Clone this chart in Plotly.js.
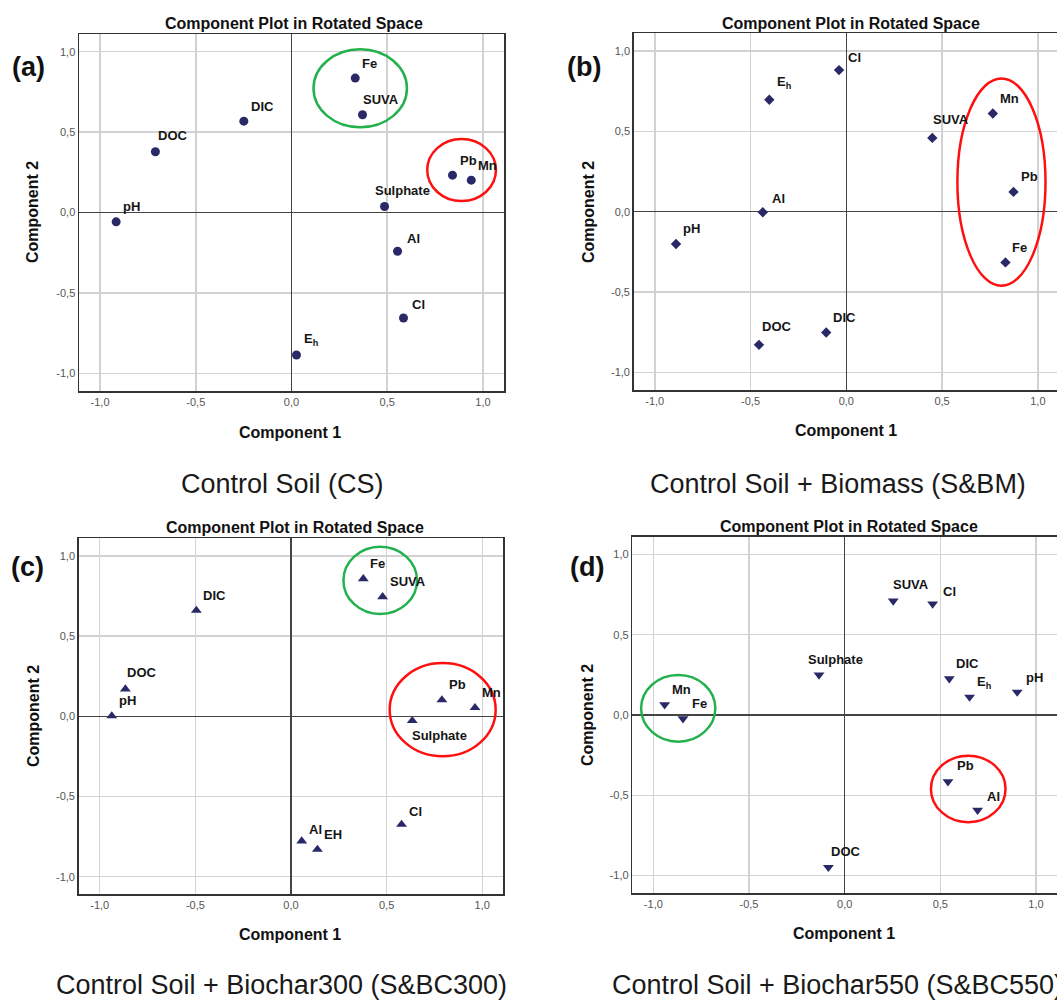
<!DOCTYPE html>
<html>
<head>
<meta charset="utf-8">
<script src="https://cdn.plot.ly/plotly-3.0.1.min.js"></script>
<style>html,body{margin:0;padding:0;background:#fff;}#chart{width:1057px;height:1001px;}</style>
</head>
<body>
<div id="chart"></div>
<script>
// ---------- DATA ----------
var tickValues = [-1.0, -0.5, 0.0, 0.5, 1.0];
var tickLabels = ['-1,0', '-0,5', '0,0', '0,5', '1,0'];

// (a) Control Soil (CS)
var csLabels = ['Fe', 'SUVA', 'DIC', 'DOC', 'pH', 'Pb', 'Mn', 'Sulphate', 'Al', 'Cl', 'E<sub>h</sub>'];
var csComp1  = [0.333, 0.371, -0.249, -0.711, -0.916, 0.841, 0.939, 0.486, 0.554, 0.585, 0.026];
var csComp2  = [0.836, 0.608, 0.568, 0.378, -0.058, 0.232, 0.201, 0.037, -0.241, -0.656, -0.886];

// (b) Control Soil + Biomass (S&BM)
var bmLabels = ['Cl', 'E<sub>h</sub>', 'Mn', 'SUVA', 'Pb', 'Al', 'pH', 'Fe', 'DIC', 'DOC'];
var bmComp1  = [-0.038, -0.402, 0.765, 0.449, 0.873, -0.436, -0.889, 0.831, -0.105, -0.456];
var bmComp2  = [0.881, 0.696, 0.611, 0.459, 0.123, -0.004, -0.201, -0.316, -0.752, -0.829];

// (c) Control Soil + Biochar300 (S&BC300)
var bc3Labels = ['Fe', 'SUVA', 'DIC', 'DOC', 'pH', 'Pb', 'Mn', 'Sulphate', 'Cl', 'Al', 'EH'];
var bc3Comp1  = [0.378, 0.479, -0.495, -0.866, -0.937, 0.789, 0.962, 0.634, 0.578, 0.056, 0.138];
var bc3Comp2  = [0.857, 0.745, 0.660, 0.170, 0.002, 0.102, 0.054, -0.027, -0.674, -0.778, -0.830];

// (d) Control Soil + Biochar550 (S&BC550)
var bc5Labels = ['SUVA', 'Cl', 'Sulphate', 'DIC', 'E<sub>h</sub>', 'pH', 'Mn', 'Fe', 'Pb', 'Al', 'DOC'];
var bc5Comp1  = [0.254, 0.460, -0.134, 0.547, 0.653, 0.902, -0.941, -0.845, 0.540, 0.695, -0.085];
var bc5Comp2  = [0.710, 0.691, 0.249, 0.226, 0.112, 0.143, 0.064, -0.023, -0.415, -0.593, -0.948];

// highlighted groups (ellipses, in component units): [x0, x1, y0, y1]
var csGreen  = [0.115, 0.603, 0.530, 1.015];
var csRed    = [0.709, 1.068, 0.071, 0.457];
var bmRed    = [0.580, 1.040, -0.461, 0.829];
var bc3Green = [0.274, 0.659, 0.638, 1.057];
var bc3Red   = [0.516, 1.070, -0.249, 0.332];
var bc5Green = [-1.064, -0.676, -0.166, 0.249];
var bc5Red   = [0.451, 0.841, -0.667, -0.253];

var panelCaptions = ['Control Soil (CS)', 'Control Soil + Biomass (S&amp;BM)',
                     'Control Soil + Biochar300 (S&amp;BC300)', 'Control Soil + Biochar550 (S&amp;BC550)'];
var panelLetters = ['(a)', '(b)', '(c)', '(d)'];
var plotTitle = 'Component Plot in Rotated Space';
var xTitle = 'Component 1';
var yTitle = 'Component 2';

// ---------- STYLE / LAYOUT ----------
var W = 1057, H = 1001;
function px(x) { return x / W; }
function py(y) { return 1 - y / H; }
var FONT = 'Liberation Sans, Arial, sans-serif';
var MARKER = '#2a2968';

// label offsets (pixels): default right/up, with a few overrides
var DEF_DX = 5, DEF_DY = 15;
var labelOffsets = {
  a: {'SUVA': [-2, 15], 'DOC': [1, 16], 'Sulphate': [-12, 16], 'Al': [7, 13], 'Cl': [7, 13], 'E<sub>h</sub>': [6, 15]},
  b: {'SUVA': [-1, 18], 'DOC': [1, 18], 'Cl': [7, 13], 'E<sub>h</sub>': [6, 17], 'Al': [7, 14]},
  c: {'Sulphate': [-2, -15], 'DOC': [0, 17], 'Al': [5, 12], 'Cl': [5, 13]},
  d: {'SUVA': [-2, 16], 'Sulphate': [-13, 16], 'Cl': [8, 13], 'Fe': [7, 15], 'Pb': [7, 16], 'Al': [7, 14], 'DOC': [1, 16], 'pH': [7, 15]}
};

var panels = [
  {key: 'a', xa: 'x',  ya: 'y',  labels: csLabels,  c1: csComp1,  c2: csComp2,  sym: 'circle',        size: 9,
   xdom: [px(79), px(504)],    ydom: [py(391), py(34)],    xr: [-1.11, 1.11], mirrorY: true,
   title: [294, 23], xt: [290, 432], yt: [33, 212], cap: [282.5, 484, 'center'], letter: [28, 67],
   ell: [[csGreen, '#22b14c'], [csRed, '#ff1010']]},
  {key: 'b', xa: 'x2', ya: 'y2', labels: bmLabels,  c1: bmComp1,  c2: bmComp2,  sym: 'diamond',       size: 8,
   xdom: [px(633.7), 1],       ydom: [py(390), py(33.3)],  xr: [-1.11, 1.10], mirrorY: false,
   title: [851, 23], xt: [846, 431], yt: [589, 212], cap: [838, 484, 'center'], letter: [584, 67],
   ell: [[bmRed, '#ff1010']]},
  {key: 'c', xa: 'x3', ya: 'y3', labels: bc3Labels, c1: bc3Comp1, c2: bc3Comp2, sym: 'triangle-up',   size: 9.5,
   xdom: [px(78.7), px(503.3)], ydom: [py(894.3), py(538.3)], xr: [-1.11, 1.11], mirrorY: true,
   title: [295, 527], xt: [290, 934], yt: [33, 716], cap: [281.5, 985, 'center'], letter: [27, 567],
   ell: [[bc3Green, '#22b14c'], [bc3Red, '#ff1010']]},
  {key: 'd', xa: 'x4', ya: 'y4', labels: bc5Labels, c1: bc5Comp1, c2: bc5Comp2, sym: 'triangle-down', size: 9.5,
   xdom: [px(632.3), 1],       ydom: [py(893.3), py(536.7)], xr: [-1.11, 1.11], mirrorY: false,
   title: [849, 526], xt: [844, 933], yt: [587, 715], cap: [610.3, 985, 'left'], letter: [587, 567],
   ell: [[bc5Green, '#22b14c'], [bc5Red, '#ff1010']]}
];

var traces = [];
var layout = {
  width: W, height: H,
  margin: {l: 0, r: 0, t: 0, b: 0},
  paper_bgcolor: '#ffffff', plot_bgcolor: '#ffffff',
  showlegend: false,
  font: {family: FONT, color: '#111'},
  annotations: [], shapes: []
};

panels.forEach(function (p, i) {
  var n = i === 0 ? '' : String(i + 1);
  traces.push({
    type: 'scatter', mode: 'markers',
    x: p.c1, y: p.c2, xaxis: p.xa, yaxis: p.ya,
    marker: {symbol: p.sym, size: p.size, color: MARKER},
    hoverinfo: 'skip', cliponaxis: false
  });
  var axCommon = {
    tickvals: tickValues, ticktext: tickLabels,
    showgrid: true, gridcolor: '#d2d2d2', gridwidth: 1.5,
    zeroline: true, zerolinecolor: '#444444', zerolinewidth: 1.5,
    showline: true, linecolor: '#333333', linewidth: 1.5,
    ticks: '', tickfont: {family: FONT, size: 11, color: '#555'},
    fixedrange: true
  };
  layout['xaxis' + n] = Object.assign({}, axCommon, {
    domain: p.xdom, range: p.xr, anchor: 'y' + n, mirror: true
  });
  layout['yaxis' + n] = Object.assign({}, axCommon, {
    domain: p.ydom, range: [-1.11, 1.11], anchor: 'x' + n, mirror: p.mirrorY
  });

  // point labels
  p.labels.forEach(function (lab, j) {
    var off = labelOffsets[p.key][lab] || [DEF_DX, DEF_DY];
    layout.annotations.push({
      x: p.c1[j], y: p.c2[j], xref: p.xa, yref: p.ya,
      text: lab, showarrow: false, xanchor: 'left', yanchor: 'middle',
      xshift: off[0], yshift: off[1],
      font: {family: FONT, size: 13, color: '#151515', weight: 'bold'}
    });
  });

  // highlight ellipses
  p.ell.forEach(function (e) {
    layout.shapes.push({
      type: 'circle', xref: p.xa, yref: p.ya, layer: 'above',
      x0: e[0][0], x1: e[0][1], y0: e[0][2], y1: e[0][3],
      line: {color: e[1], width: 2.5}
    });
  });

  // subplot title
  layout.annotations.push({
    x: px(p.title[0]), y: py(p.title[1]), xref: 'paper', yref: 'paper',
    text: plotTitle, showarrow: false, xanchor: 'center', yanchor: 'middle',
    font: {family: FONT, size: 16, color: '#111', weight: 'bold'}
  });
  // axis titles
  layout.annotations.push({
    x: px(p.xt[0]), y: py(p.xt[1]), xref: 'paper', yref: 'paper',
    text: xTitle, showarrow: false, xanchor: 'center', yanchor: 'middle',
    font: {family: FONT, size: 16, color: '#111', weight: 'bold'}
  });
  layout.annotations.push({
    x: px(p.yt[0]), y: py(p.yt[1]), xref: 'paper', yref: 'paper',
    text: yTitle, showarrow: false, xanchor: 'center', yanchor: 'middle', textangle: -90,
    font: {family: FONT, size: 16, color: '#111', weight: 'bold'}
  });
  // caption
  layout.annotations.push({
    x: px(p.cap[0]), y: py(p.cap[1]), xref: 'paper', yref: 'paper',
    text: panelCaptions[i], showarrow: false, xanchor: p.cap[2], yanchor: 'middle',
    font: {family: FONT, size: 27, color: '#1a1a1a'}
  });
  // panel letter
  layout.annotations.push({
    x: px(p.letter[0]), y: py(p.letter[1]), xref: 'paper', yref: 'paper',
    text: panelLetters[i], showarrow: false, xanchor: 'center', yanchor: 'middle',
    font: {family: FONT, size: 27, color: '#111', weight: 'bold'}
  });
});

Plotly.newPlot('chart', traces, layout, {staticPlot: true, displayModeBar: false});
</script>
</body>
</html>
